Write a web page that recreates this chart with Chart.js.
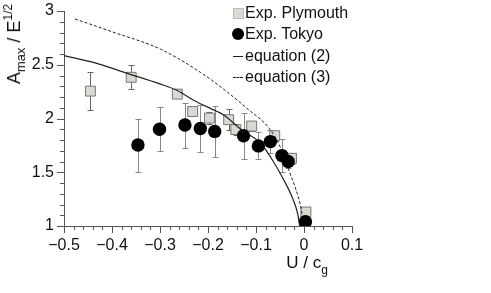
<!DOCTYPE html>
<html>
<head>
<meta charset="utf-8">
<script src="https://cdn.jsdelivr.net/npm/chart.js@4/dist/chart.umd.min.js"></script>
<style>
  body { margin: 0; background: #fff; }
  #wrap { position: relative; width: 491px; height: 293px; font-family: "Liberation Sans", Arial, sans-serif; color: #111; }
  canvas { position: absolute; left: 0; top: 0; }
  .ytitle { position: absolute; left: 15px; top: 44px; transform: translate(-50%, -50%) rotate(-90deg);
            font-size: 18px; line-height: 20px; white-space: nowrap; }
  .xtitle { position: absolute; left: 307px; top: 253px; transform: translateX(-50%);
            font-size: 17px; line-height: 20px; white-space: nowrap; }
  .lo { position: relative; top: 5px; font-size: 13px; }
  .hi { position: relative; top: -8px; font-size: 12px; }
  .xlo { position: relative; top: 6px; font-size: 12px; }
  .row { position: absolute; left: 232px; height: 20px; line-height: 20px; font-size: 16px; white-space: nowrap; }
  .row .ic { position: absolute; left: 0; top: 0; width: 12px; height: 20px; }
  .row .tx { position: absolute; left: 13px; top: 0; }
</style>
</head>
<body>
<div id="wrap">
  <canvas id="myChart" width="491" height="293"></canvas>
  <div class="ytitle">A<span class="lo">max</span> / E<span class="hi">1/2</span></div>
  <div class="xtitle">U / c<span class="xlo">g</span></div>
  <div id="legend"></div>
</div>
<script>
// series names
const seriesNames = ["Exp. Plymouth", "Exp. Tokyo", "equation (2)", "equation (3)"];

// Plymouth experiment (squares)
const plymouthX = [-0.445, -0.360, -0.264, -0.232, -0.197, -0.157, -0.142, -0.109, -0.061, -0.026, 0.004];
const plymouthY = [2.255, 2.383, 2.227, 2.065, 2.004, 1.989, 1.897, 1.93, 1.84, 1.63, 1.13];
const plymouthHi = [2.43, 2.50, 2.25, 2.09, 2.06, 2.09, 1.95, 1.98, 1.88, 1.68, 1.17];
const plymouthLo = [2.08, 2.27, 2.20, 2.04, 1.95, 1.89, 1.85, 1.88, 1.79, 1.58, 1.09];

// Tokyo experiment (circles)
const tokyoX = [-0.346, -0.301, -0.248, -0.216, -0.186, -0.126, -0.095, -0.070, -0.046, -0.033, 0.003];
const tokyoY = [1.754, 1.90, 1.94, 1.907, 1.88, 1.84, 1.745, 1.785, 1.655, 1.60, 1.04];
const tokyoHi = [2.0, 2.11, 2.14, 2.13, 2.12, 2.05, 1.87, 1.89, 1.81, 1.66, 1.06];
const tokyoLo = [1.5, 1.70, 1.73, 1.69, 1.64, 1.62, 1.62, 1.68, 1.50, 1.54, 1.02];

// equation (2), solid curve
const eq2X = [-0.5, -0.437, -0.368, -0.299, -0.264, -0.230, -0.181, -0.168, -0.126, -0.095, -0.085, -0.064, -0.0435, -0.023, -0.013, -0.009];
const eq2Y = [2.585, 2.52, 2.42, 2.32, 2.26, 2.17, 2.065, 2.035, 1.88, 1.79, 1.74, 1.60, 1.44, 1.25, 1.11, 1.0];

// equation (3), dashed curve
const eq3X = [-0.477, -0.402, -0.299, -0.216, -0.161, -0.119, -0.071, -0.050, -0.030, -0.012, -0.005, -0.001];
const eq3Y = [2.926, 2.81, 2.645, 2.43, 2.25, 2.095, 1.90, 1.74, 1.50, 1.27, 1.14, 1.0];

const axisColor = "#555";

function pts(xs, ys) {
  return xs.map((x, i) => ({ x: x, y: ys[i] }));
}

function isMajor(v, step) {
  const r = v / step;
  return Math.abs(r - Math.round(r)) < 1e-6;
}

function fmt(v, step) {
  const n = Math.round(v / step) * step;
  let s = String(Math.round(n * 10) / 10);
  return s.replace("-", "\u2212");
}

// error bars under the markers
const errorBars = {
  id: "errorBars",
  beforeDatasetsDraw(chart) {
    const ctx = chart.ctx;
    const xs = chart.scales.x, ys = chart.scales.y;
    const sets = [
      { x: plymouthX, hi: plymouthHi, lo: plymouthLo, color: "#666" },
      { x: tokyoX, hi: tokyoHi, lo: tokyoLo, color: "#888" },
    ];
    ctx.save();
    ctx.lineWidth = 1;
    sets.forEach(s => {
      ctx.strokeStyle = s.color;
      ctx.beginPath();
      s.x.forEach((x, i) => {
        const px = Math.round(xs.getPixelForValue(x)) + 0.5;
        const p1 = Math.round(ys.getPixelForValue(s.hi[i])) + 0.5;
        const p2 = Math.round(ys.getPixelForValue(s.lo[i])) + 0.5;
        ctx.moveTo(px, p1); ctx.lineTo(px, p2);
        ctx.moveTo(px - 3, p1); ctx.lineTo(px + 3, p1);
        ctx.moveTo(px - 3, p2); ctx.lineTo(px + 3, p2);
      });
      ctx.stroke();
    });
    ctx.restore();
  }
};

// major / minor tick marks
const tickMarks = {
  id: "tickMarks",
  afterDraw(chart) {
    const ctx = chart.ctx;
    const xs = chart.scales.x, ys = chart.scales.y;
    ctx.save();
    ctx.strokeStyle = axisColor;
    ctx.lineWidth = 1;
    ctx.beginPath();
    xs.ticks.forEach(t => {
      const px = Math.round(xs.getPixelForValue(t.value)) + 0.5;
      const len = isMajor(t.value, 0.1) ? 7 : 4;
      ctx.moveTo(px, xs.top); ctx.lineTo(px, xs.top + len);
    });
    ys.ticks.forEach(t => {
      const py = Math.round(ys.getPixelForValue(t.value)) + 0.5;
      const len = isMajor(t.value, 0.5) ? 7 : 4;
      ctx.moveTo(ys.right, py); ctx.lineTo(ys.right - len, py);
    });
    ctx.stroke();
    ctx.restore();
  }
};

const ctx = document.getElementById("myChart");

new Chart(ctx, {
  type: "scatter",
  data: {
    datasets: [
      {
        label: seriesNames[1],
        data: pts(tokyoX, tokyoY),
        pointStyle: "circle",
        pointRadius: 6.7,
        pointBackgroundColor: "#000",
        pointBorderWidth: 0,
        order: 0,
      },
      {
        label: seriesNames[2],
        data: pts(eq2X, eq2Y),
        showLine: true,
        pointRadius: 0,
        borderColor: "#222",
        borderWidth: 1.2,
        cubicInterpolationMode: "monotone",
        order: 1,
      },
      {
        label: seriesNames[3],
        data: pts(eq3X, eq3Y),
        showLine: true,
        pointRadius: 0,
        borderColor: "#222",
        borderWidth: 1,
        borderDash: [3, 2],
        cubicInterpolationMode: "monotone",
        order: 2,
      },
      {
        label: seriesNames[0],
        data: pts(plymouthX, plymouthY),
        pointStyle: "rect",
        pointRadius: 7,
        pointBackgroundColor: "#d9dad2",
        pointBorderColor: "#777",
        pointBorderWidth: 1,
        order: 3,
      },
    ],
  },
  options: {
    responsive: false,
    animation: false,
    events: [],
    layout: { padding: { left: 0, right: 139, top: 8, bottom: 0 } },
    plugins: { legend: { display: false }, tooltip: { enabled: false } },
    scales: {
      x: {
        type: "linear",
        min: -0.5,
        max: 0.1,
        afterFit: s => { s.height = 67; },
        border: { display: true, color: axisColor, width: 1 },
        grid: { display: true, drawOnChartArea: false, tickLength: 7, tickColor: "rgba(0,0,0,0)" },
        ticks: {
          stepSize: 0.02,
          maxTicksLimit: 100,
          autoSkip: false,
          maxRotation: 0,
          padding: 3,
          color: "#111",
          font: { family: "Liberation Sans", size: 16 },
          callback: v => isMajor(v, 0.1) ? fmt(v, 0.1) : "",
        },
      },
      y: {
        type: "linear",
        min: 1,
        max: 3,
        afterFit: s => { s.width = 64; },
        border: { display: true, color: axisColor, width: 1 },
        grid: { display: true, drawOnChartArea: false, tickLength: 7, tickColor: "rgba(0,0,0,0)" },
        ticks: {
          stepSize: 0.1,
          maxTicksLimit: 100,
          autoSkip: false,
          padding: 3,
          color: "#111",
          font: { family: "Liberation Sans", size: 16, lineHeight: 1 },
          callback: v => isMajor(v, 0.5) ? String(Math.round(v * 2) / 2) : "",
        },
      },
    },
  },
  plugins: [errorBars, tickMarks],
});

// legend, built from the series names
const legendTops = [2.5, 24, 45.5, 66.5];
const icons = [
  '<div style="position:absolute;left:1px;top:5px;width:9px;height:9px;background:#d9dad2;border:1px solid #bbb"></div>',
  '<div style="position:absolute;left:0;top:4px;width:12px;height:12px;border-radius:50%;background:#000"></div>',
  '<div style="position:absolute;left:1px;top:10px;width:10px;border-top:1px solid #222"></div>',
  '<div style="position:absolute;left:1px;top:10px;width:10px;border-top:1px dashed #222"></div>',
];
const legend = document.getElementById("legend");
seriesNames.forEach((name, i) => {
  const row = document.createElement("div");
  row.className = "row";
  row.style.top = legendTops[i] + "px";
  row.innerHTML = '<div class="ic">' + icons[i] + '</div><span class="tx"></span>';
  row.querySelector(".tx").textContent = name;
  legend.appendChild(row);
});
</script>
</body>
</html>
